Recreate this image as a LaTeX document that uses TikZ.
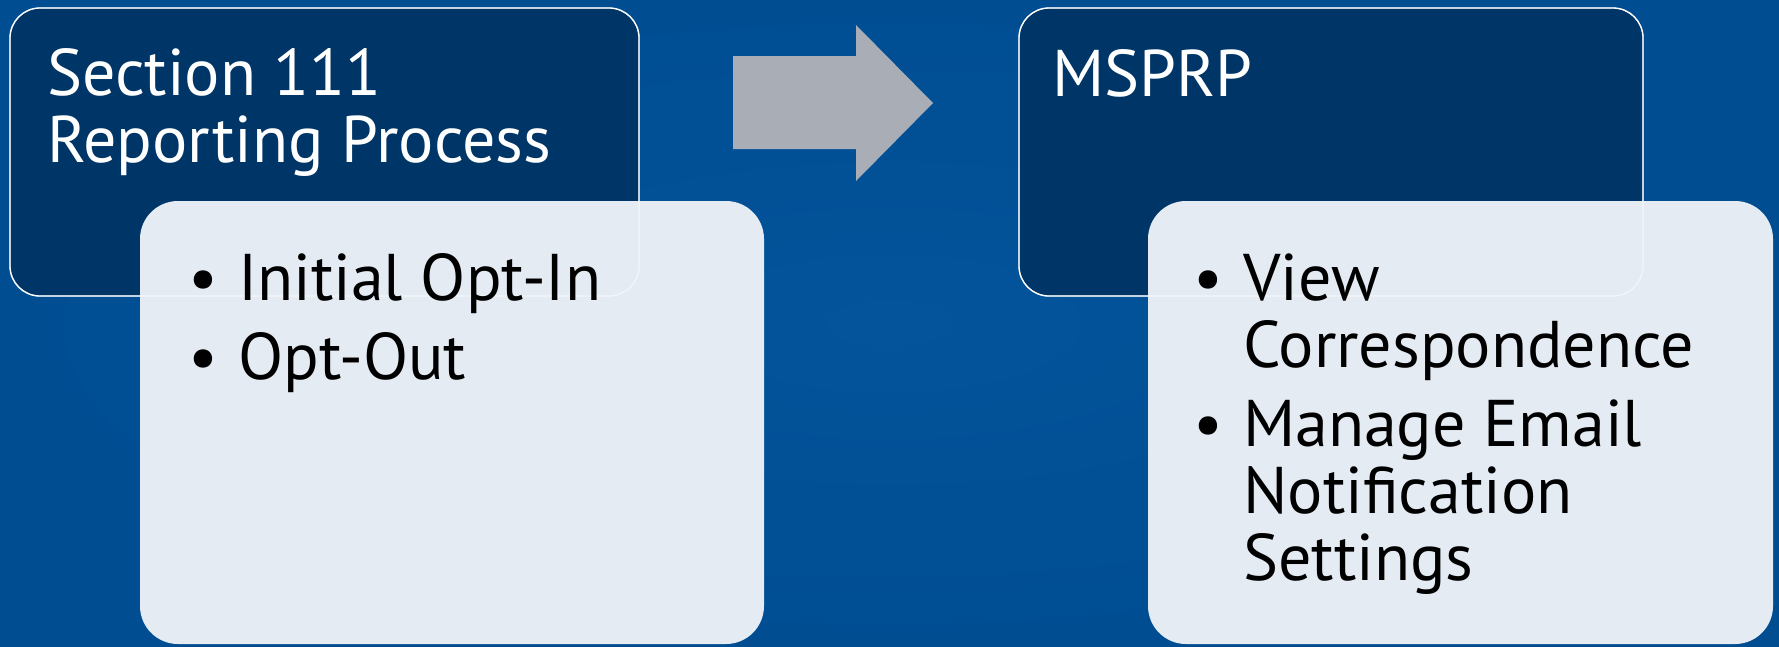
\documentclass[tikz,border=0pt]{standalone}
\usepackage{fontspec}
\setmainfont{PT Sans}
\definecolor{bgblue}{HTML}{004D92}
\definecolor{bgblue2}{HTML}{03549B}
\definecolor{navy}{HTML}{003567}
\definecolor{pale}{HTML}{E4EBF3}
\definecolor{arrowgrey}{HTML}{A9ADB6}
\tikzset{
  darkbox/.style={draw=white, line width=1.3pt, fill=navy, rounded corners=30pt, anchor=north west, inner sep=0pt, outer sep=0pt},
  palebox/.style={draw=none, fill=pale, rounded corners=38pt, anchor=north west, inner sep=0pt, outer sep=0pt},
  ghost/.style={draw=white, draw opacity=0.55, line width=1.3pt, rounded corners=30pt},
  ttl/.style={anchor=base west, inner sep=0pt, text=white, font=\fontsize{66}{69}\selectfont},
  itm/.style={anchor=base west, inner sep=0pt, text=black, font=\fontsize{66}{69}\selectfont},
}
\begin{document}
\begin{tikzpicture}[x=1pt,y=-1pt]
\useasboundingbox (0,0) rectangle (1779,646);
\shade[inner color=bgblue2, outer color=bgblue] (0,0) rectangle (1779,646);
% arrow
\fill[arrowgrey] (733,56) -- (856,56) -- (856,25) -- (933,103) -- (856,181) -- (856,149) -- (733,149) -- cycle;
% left group
\node[darkbox, minimum width=629pt, minimum height=288pt] (d1) at (10,8) {};
\node[ttl] (t1a) at (47,95) {Section 111};
\node[ttl] (t1b) at (47,162) {Reporting Process};
\node[palebox, minimum width=624pt, minimum height=443pt] (p1) at (140,201) {};
\draw[ghost] (d1.north west) rectangle (d1.south east);
\node[itm] (b1a) at (188,300) {•};
\node[itm] (i1a) at (238,300) {Initial Opt-In};
\node[itm] (b1b) at (188,379) {•};
\node[itm] (i1b) at (238,379) {Opt-Out};
% right group
\node[darkbox, minimum width=624pt, minimum height=288pt] (d2) at (1019,8) {};
\node[ttl] (t2a) at (1052,96) {MSPRP};
\node[palebox, minimum width=625pt, minimum height=443pt] (p2) at (1148,201) {};
\draw[ghost] (d2.north west) rectangle (d2.south east);
\node[itm] (b2a) at (1193,300) {•};
\node[itm] (i2a) at (1243,300) {View};
\node[itm] (i2b) at (1243,367) {Correspondence};
\node[itm] (b2b) at (1193,446) {•};
\node[itm] (i2c) at (1243,446) {Manage Email};
\node[itm] (i2d) at (1243,513) {Notification};
\node[itm] (i2e) at (1243,580) {Settings};
\end{tikzpicture}
\end{document}
